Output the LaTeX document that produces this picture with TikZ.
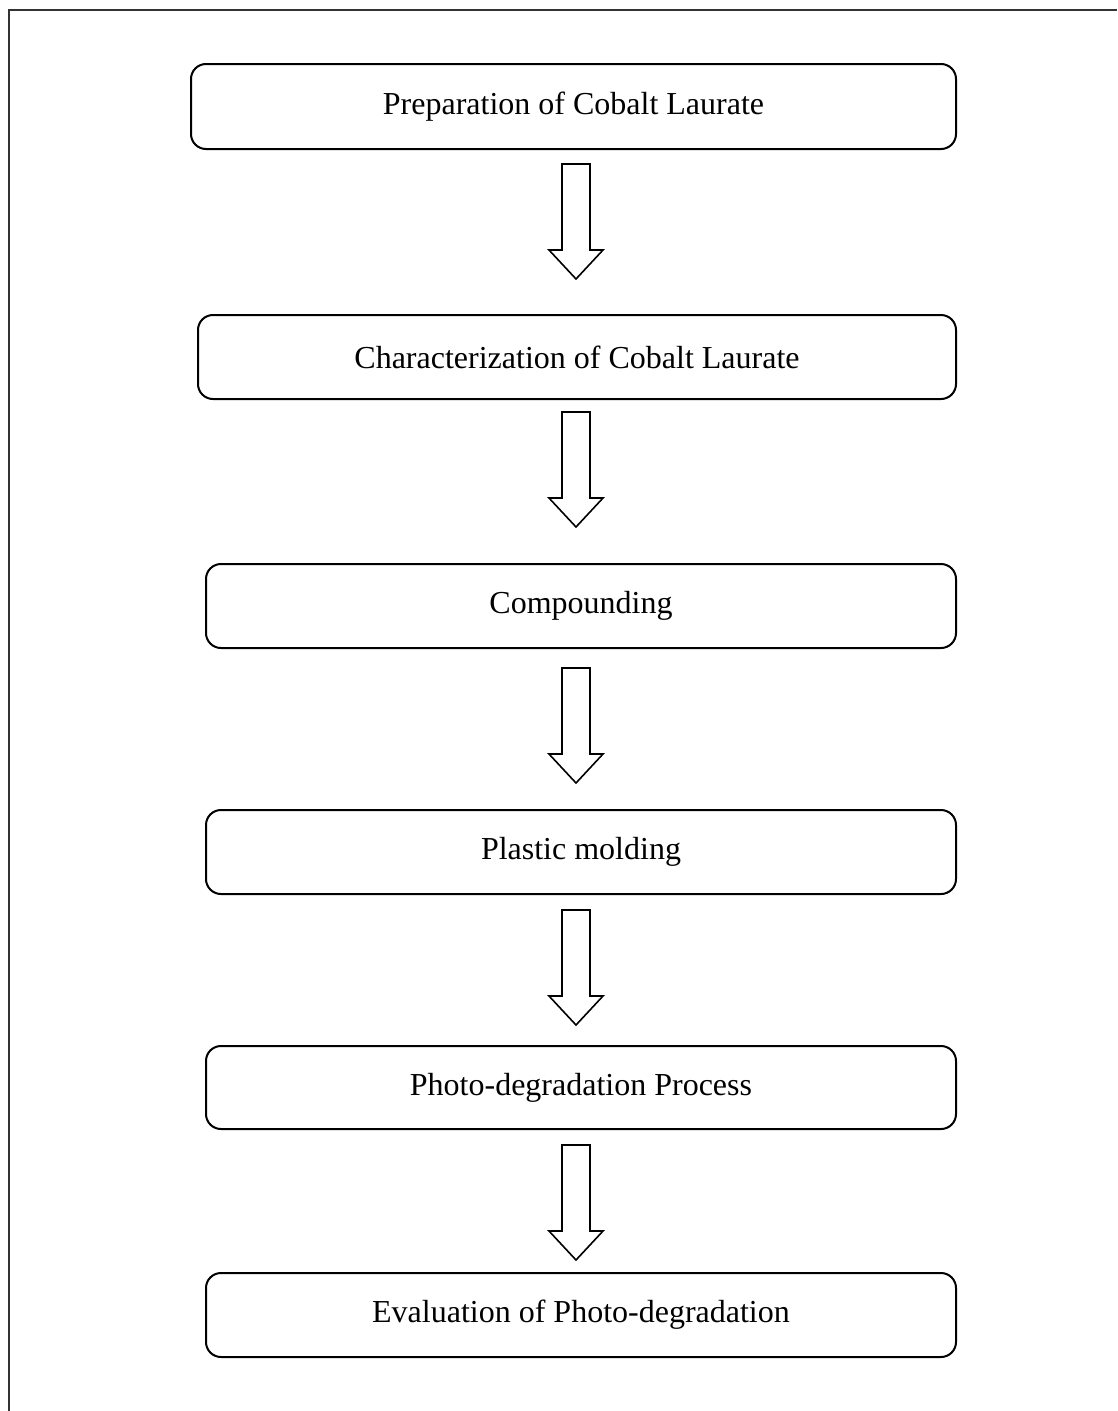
\documentclass[tikz,border=0pt]{standalone}
\usepackage{fontspec}
\setmainfont{Liberation Serif}
\usetikzlibrary{calc}
\tikzset{
  stage/.style={draw=black, line width=2pt, rounded corners=15pt, inner sep=0pt,
    font=\fontsize{32}{38}\selectfont},
  frameline/.style={draw=black!80, line width=2pt},
  blockarrow/.style={draw=black, line width=1.6pt, fill=white, line join=miter}
}
\newcommand{\boxat}[6]{% name, x1, y1, x2, y2, text
  \node[stage, minimum width={(#4)-(#2)}, minimum height={(#5)-(#3)}, anchor=north west]
    (#1) at (#2,#3) {#6};}
% block arrow: below node #1, shaft starts #2 below it
\newcommand{\downarrowfrom}[2]{%
  \coordinate (#1-top) at ($(#1.south -| ax)+(0,#2)$);
  \draw[blockarrow] ($(#1-top)+(-14,0)$) -- ($(#1-top)+(14,0)$) -- ++(0,86) -- ++(13,0)
    -- ($(#1-top)+(0,115)$) -- ($(#1-top)+(-27,86)$) -- ++(13,0) -- cycle;}
\begin{document}
\begin{tikzpicture}[x=1pt,y=-1pt]
  \useasboundingbox (0,0) rectangle (1117,1411);
  \coordinate (ax) at (576,0);
  \coordinate (fbl) at (8.5,1411);
  \coordinate (ftl) at (8.5,9.5);
  \coordinate (ftr) at (1117,9.5);
  \draw[frameline] (fbl) -- (ftl) -- (ftr);
  \boxat{b1}{190}{63}{955}{148}{Preparation of Cobalt Laurate}
  \boxat{b2}{197}{314}{955}{398}{Characterization of Cobalt Laurate}
  \boxat{b3}{205}{563}{955}{647}{Compounding}
  \boxat{b4}{205}{809}{955}{893}{Plastic molding}
  \boxat{b5}{205}{1045}{955}{1128}{Photo-degradation Process}
  \boxat{b6}{205}{1272}{955}{1356}{Evaluation of Photo-degradation}
  \downarrowfrom{b1}{14}
  \downarrowfrom{b2}{12}
  \downarrowfrom{b3}{19}
  \downarrowfrom{b4}{15}
  \downarrowfrom{b5}{15}
\end{tikzpicture}
\end{document}
